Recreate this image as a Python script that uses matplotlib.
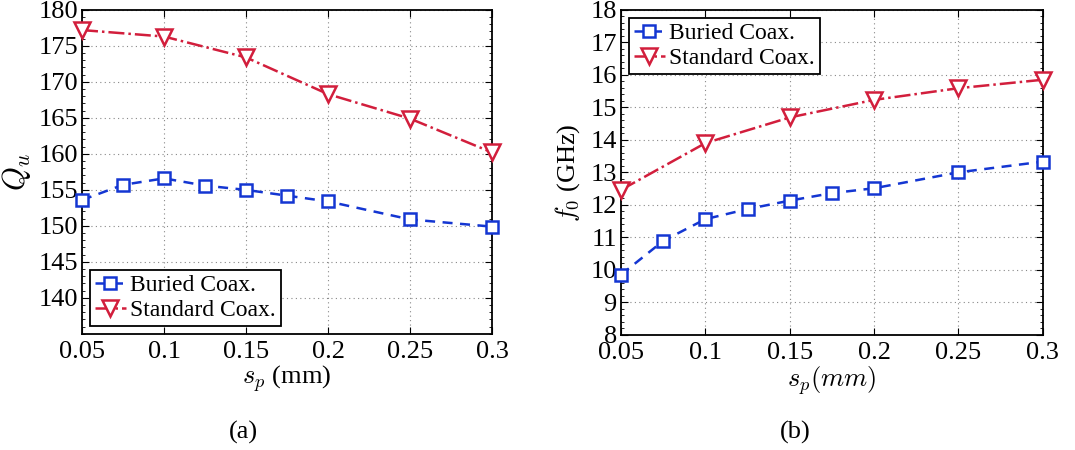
import matplotlib
matplotlib.use("Agg")
import matplotlib.pyplot as plt
from matplotlib.ticker import AutoMinorLocator

plt.rcParams['font.family'] = ['Liberation Serif', 'DejaVu Serif']
plt.rcParams['mathtext.fontset'] = 'cm'

# Gap width s_p (mm)
sp_buried = [0.05, 0.075, 0.1, 0.125, 0.15, 0.175, 0.2, 0.25, 0.3]
sp_standard = [0.05, 0.1, 0.15, 0.2, 0.25, 0.3]

# Unloaded quality factor Q_u
q_buried = [153.6, 155.7, 156.6, 155.6, 155.0, 154.2, 153.4, 150.9, 149.9]
q_standard = [177.2, 176.3, 173.4, 168.3, 164.9, 160.2]

# Resonant frequency f_0 (GHz)
f_buried = [9.85, 10.89, 11.56, 11.87, 12.13, 12.36, 12.51, 13.0, 13.33]
f_standard = [12.46, 13.9, 14.69, 15.23, 15.59, 15.85]

x_ticks = [0.05, 0.1, 0.15, 0.2, 0.25, 0.3]
x_tick_labels = ['0.05', '0.1', '0.15', '0.2', '0.25', '0.3']
q_ticks = [140, 145, 150, 155, 160, 165, 170, 175, 180]
f_ticks = list(range(8, 19))

blue = '#1436d2'
red = '#d21e3c'

fig = plt.figure(figsize=(10.75, 4.5), dpi=100)
ax1 = fig.add_axes([0.0763, 0.258, 0.3814, 0.720])
ax2 = fig.add_axes([0.5777, 0.256, 0.3923, 0.722])


def style(ax):
    ax.set_xlim(0.05, 0.3)
    ax.set_xticks(x_ticks)
    ax.set_xticklabels(x_tick_labels)
    ax.grid(True, linestyle=(0, (1, 3)), color='#888888', linewidth=0.8)
    ax.tick_params(direction='in', labelsize=19, length=5, width=0.8,
                   top=True, right=True, pad=3)
    ax.tick_params(axis='x', pad=5)
    ax.tick_params(which='minor', direction='in', length=2.5, width=0.6,
                   left=True, right=True)
    ax.yaxis.set_minor_locator(AutoMinorLocator(5))
    for s in ax.spines.values():
        s.set_linewidth(1.3)


def draw(ax, yb, ys):
    ax.plot(sp_buried, yb, linestyle='--', color=blue, linewidth=1.8,
            marker='s', markersize=8, markerfacecolor='white',
            markeredgecolor=blue, markeredgewidth=1.8, dashes=(4, 3),
            label='Buried Coax.', clip_on=False, zorder=3)
    ax.plot(sp_standard, ys, linestyle='-.', color=red, linewidth=1.8,
            marker='v', markersize=12, markerfacecolor='white',
            markeredgecolor=red, markeredgewidth=1.8,
            label='Standard Coax.', clip_on=False, zorder=3)


def legend(ax, loc):
    leg = ax.legend(loc=loc, fontsize=17, frameon=True, fancybox=False,
                    edgecolor='black', borderaxespad=0.35, handlelength=1.3,
                    handletextpad=0.2, borderpad=0.2, labelspacing=0.15,
                    framealpha=1)
    leg.get_frame().set_linewidth(1.3)


draw(ax1, q_buried, q_standard)
style(ax1)
ax1.set_ylim(135, 180)
ax1.set_yticks(q_ticks)
ax1.set_xlabel(r'$s_p$ (mm)', fontsize=19, labelpad=0)
ax1.set_ylabel(r'$Q_u$', fontsize=22, labelpad=4)
legend(ax1, 'lower left')

draw(ax2, f_buried, f_standard)
style(ax2)
ax2.set_ylim(8, 18)
ax2.set_yticks(f_ticks)
ax2.set_xlabel(r'$s_p(mm)$', fontsize=19, labelpad=0)
ax2.set_ylabel(r'$f_0$ (GHz)', fontsize=19, labelpad=6)
legend(ax2, 'upper left')

fig.text(243 / 1075, 1 - 432 / 450, '(a)', fontsize=19, ha='center', va='center')
fig.text(795 / 1075, 1 - 432 / 450, '(b)', fontsize=19, ha='center', va='center')

fig.savefig('out.png', dpi=100)
